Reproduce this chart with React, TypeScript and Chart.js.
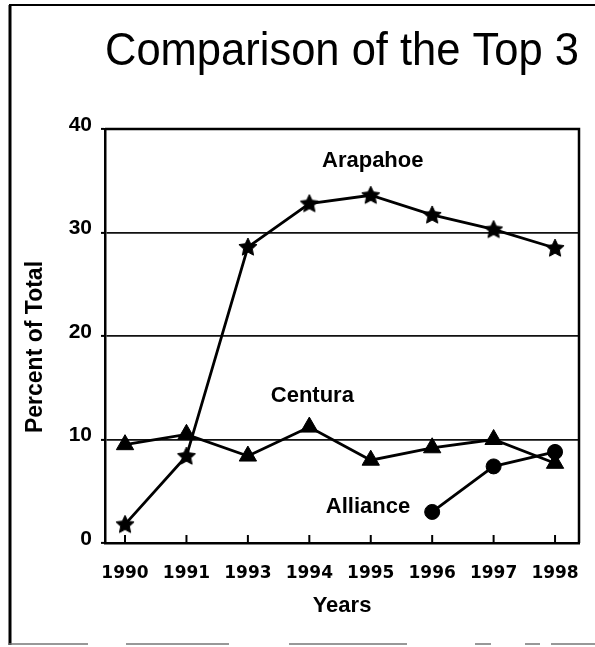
import React, { useEffect, useRef } from 'react';
import { Chart, registerables } from 'chart.js';

Chart.register(...registerables);

const years = ['1990', '1991', '1993', '1994', '1995', '1996', '1997', '1998'];
const arapahoe = [1.8, 8.4, 28.6, 32.8, 33.6, 31.7, 30.3, 28.5];
const centura = [9.5, 10.5, 8.4, 11.2, 8.0, 9.2, 10.0, 7.7];
const alliance: (number | null)[] = [null, null, null, null, null, 3.0, 7.4, 8.8];
const yTicks = [0, 10, 20, 30, 40];
const seriesNames = ['Arapahoe', 'Centura', 'Alliance'];
const titleText = 'Comparison of the Top 3';
const xTitle = 'Years';
const yTitle = 'Percent of Total';

const SANS = "'Liberation Sans', Arial, Helvetica, sans-serif";

function makeStar(): HTMLCanvasElement {
  const c = document.createElement('canvas');
  const s = 22;
  c.width = s;
  c.height = s;
  const g = c.getContext('2d')!;
  const cx = s / 2, cy = s / 2 + 0.5;
  const R = 9.5, r = 4.6;
  g.beginPath();
  for (let i = 0; i < 10; i++) {
    const a = -Math.PI / 2 + (i * Math.PI) / 5;
    const rad = i % 2 === 0 ? R : r;
    g.lineTo(cx + rad * Math.cos(a), cy + rad * Math.sin(a));
  }
  g.closePath();
  g.fillStyle = '#000';
  g.fill();
  g.strokeStyle = '#000';
  g.lineWidth = 1;
  g.lineJoin = 'round';
  g.stroke();
  return c;
}

const toPoints = (arr: (number | null)[]) => arr.map((v, i) => ({ x: i, y: v }));

const decorPlugin = {
  id: 'decor',
  beforeDraw(chart: any) {
    const { ctx, width } = chart;
    ctx.save();
    ctx.fillStyle = '#fff';
    ctx.fillRect(0, 0, chart.width, chart.height);
    ctx.strokeStyle = '#000';
    ctx.lineWidth = 3;
    ctx.beginPath();
    ctx.moveTo(10, 5);
    ctx.lineTo(10, 645);
    ctx.stroke();
    ctx.lineWidth = 2;
    ctx.beginPath();
    ctx.moveTo(9, 5);
    ctx.lineTo(width, 5);
    ctx.stroke();
    ctx.strokeStyle = '#777';
    ctx.lineWidth = 1.5;
    ctx.setLineDash([80, 38, 103, 60, 118, 68, 16, 34, 15, 11, 60]);
    ctx.beginPath();
    ctx.moveTo(8, 644);
    ctx.lineTo(width, 644);
    ctx.stroke();
    ctx.restore();

    const ca = chart.chartArea;
    ctx.save();
    ctx.translate(36, (ca.top + ca.bottom) / 2 + 11);
    ctx.rotate(-Math.PI / 2);
    ctx.fillStyle = '#000';
    ctx.font = `bold 23px ${SANS}`;
    ctx.textAlign = 'center';
    ctx.textBaseline = 'middle';
    ctx.fillText(yTitle, 0, 0);
    ctx.restore();
  },
  beforeDatasetsDraw(chart: any) {
    const { ctx, chartArea } = chart;
    const xs = chart.scales.x;
    ctx.save();
    ctx.strokeStyle = '#000';
    ctx.lineWidth = 2.5;
    ctx.beginPath();
    ctx.moveTo(chartArea.left, chartArea.top);
    ctx.lineTo(chartArea.right, chartArea.top);
    ctx.lineTo(chartArea.right, chartArea.bottom);
    ctx.stroke();
    ctx.lineWidth = 2;
    years.forEach((_, i) => {
      const px = xs.getPixelForValue(i);
      ctx.beginPath();
      ctx.moveTo(px, chartArea.bottom);
      ctx.lineTo(px, chartArea.bottom - 8);
      ctx.stroke();
    });
    ctx.restore();
  },
  afterDatasetsDraw(chart: any) {
    const { ctx } = chart;
    const xs = chart.scales.x;
    const ys = chart.scales.y;
    ctx.save();
    ctx.fillStyle = '#000';
    ctx.font = `bold 22px ${SANS}`;
    ctx.textBaseline = 'middle';
    const ai = arapahoe.indexOf(Math.max(...arapahoe));
    ctx.textAlign = 'center';
    ctx.fillText(seriesNames[0], xs.getPixelForValue(ai) + 2, ys.getPixelForValue(arapahoe[ai]) - 34);
    const ci = centura.indexOf(Math.max(...centura));
    ctx.fillText(seriesNames[1], xs.getPixelForValue(ci) + 3, ys.getPixelForValue(centura[ci]) - 31);
    const li = alliance.findIndex((v) => v !== null);
    ctx.textAlign = 'right';
    ctx.fillText(seriesNames[2], xs.getPixelForValue(li) - 22, ys.getPixelForValue(alliance[li] as number) - 5);
    ctx.restore();
  },
};

export default function App() {
  const ref = useRef<HTMLCanvasElement | null>(null);

  useEffect(() => {
    if (!ref.current) return;
    const star = makeStar();
    const chart = new Chart(ref.current, {
      type: 'line',
      data: {
        datasets: [
          {
            label: seriesNames[0],
            data: toPoints(arapahoe),
            borderColor: '#000',
            backgroundColor: '#000',
            borderWidth: 2.8,
            pointStyle: star as any,
            pointRadius: 9,
            tension: 0,
          },
          {
            label: seriesNames[1],
            data: toPoints(centura),
            borderColor: '#000',
            backgroundColor: '#000',
            borderWidth: 2.8,
            pointStyle: 'triangle',
            pointRadius: 10,
            pointBorderWidth: 1,
            tension: 0,
          },
          {
            label: seriesNames[2],
            data: toPoints(alliance),
            borderColor: '#000',
            backgroundColor: '#000',
            borderWidth: 2.8,
            pointStyle: 'circle',
            pointRadius: 7.5,
            pointBorderWidth: 1,
            tension: 0,
            spanGaps: false,
          },
        ],
      },
      options: {
        animation: false,
        responsive: true,
        maintainAspectRatio: false,
        layout: { padding: { left: 0, right: 16, top: 0, bottom: 0 } },
        plugins: {
          legend: { display: false },
          tooltip: { enabled: false },
          title: {
            display: true,
            text: titleText,
            fullSize: false,
            align: 'center',
            color: '#000',
            font: { family: "'Liberation Sans Narrow', " + SANS, size: 47, weight: 'normal', lineHeight: 1.2 },
            padding: { top: 23.5, bottom: 49.1 },
          },
        },
        scales: {
          x: {
            type: 'linear',
            min: -0.326,
            max: 7.39,
            afterFit: (s: any) => {
              s.height = 104;
              s.paddingLeft = 0;
              s.paddingRight = 0;
            },
            afterBuildTicks: (s: any) => {
              s.ticks = years.map((_, i) => ({ value: i }));
            },
            grid: { display: false, drawTicks: false },
            border: { display: true, color: '#000', width: 2.5 },
            ticks: {
              color: '#000',
              padding: 20,
              autoSkip: false,
              maxRotation: 0,
              font: { family: "'DejaVu Sans', sans-serif", size: 17, weight: 'bold' },
              callback: (v: any) => years[v as number] ?? '',
            },
            title: {
              display: true,
              text: xTitle,
              color: '#000',
              font: { family: SANS, size: 22, weight: 'bold', lineHeight: 1.2 },
              padding: { top: 0, bottom: 28 },
            },
          },
          y: {
            min: 0,
            max: 40,
            afterFit: (s: any) => {
              s.width = 105;
              s.paddingTop = 0;
              s.paddingBottom = 0;
            },
            afterBuildTicks: (s: any) => {
              s.ticks = yTicks.map((v) => ({ value: v }));
            },
            grid: {
              display: true,
              drawTicks: true,
              tickLength: 4,
              tickColor: '#000',
              tickWidth: 2,
              tickBorderDash: [],
              lineWidth: 1.8,
              borderDash: [2, 2],
              color: (c: any) =>
                c.tick && (c.tick.value === 0 || c.tick.value === 40) ? 'rgba(0,0,0,0)' : '#111',
            },
            border: { display: true, color: '#000', width: 2.5 },
            ticks: {
              color: '#000',
              padding: 9,
              labelOffset: -4,
              font: { family: SANS, size: 21, weight: 'bold' },
            },
            title: { display: false, text: yTitle },
          },
        },
      },
      plugins: [decorPlugin],
    } as any);
    return () => chart.destroy();
  }, []);

  return (
    <div style={{ position: 'absolute', left: 0, top: 0, width: 595, height: 647 }}>
      <canvas ref={ref} />
    </div>
  );
}
